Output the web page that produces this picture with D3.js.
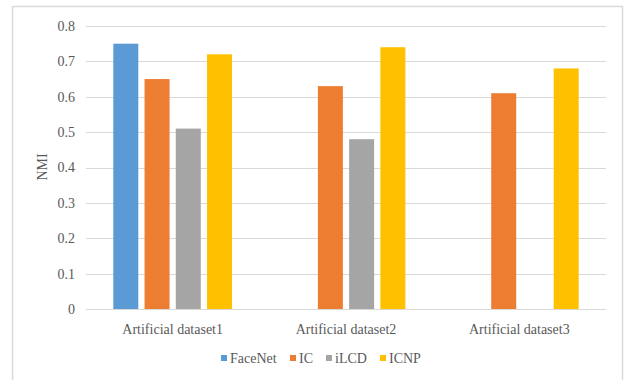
<!DOCTYPE html>
<html>
<head>
<meta charset="utf-8">
<script src="https://cdn.jsdelivr.net/npm/d3@7"></script>
<style>
  html, body { margin: 0; padding: 0; background: #fff; }
  svg { display: block; }
</style>
</head>
<body>
<svg id="chart" width="624" height="380"></svg>
<script>
// NMI scores per dataset and method
const categories = ["Artificial dataset1", "Artificial dataset2", "Artificial dataset3"];
const seriesNames = ["FaceNet", "IC", "iLCD", "ICNP"];
const faceNet = [0.75, null, null];
const ic      = [0.65, 0.63, 0.61];
const ilcd    = [0.51, 0.48, null];
const icnp    = [0.72, 0.74, 0.68];
const yTicks  = [0, 0.1, 0.2, 0.3, 0.4, 0.5, 0.6, 0.7, 0.8];
const colors  = ["#5B9BD5", "#ED7D31", "#A5A5A5", "#FFC000"];

const seriesValues = [faceNet, ic, ilcd, icnp];
const FONT = "'Liberation Serif', 'Times New Roman', serif";
const FONT_SIZE = "14px";
const TEXT_COLOR = "#595959";

function styleText(sel) {
  return sel.style("font-family", FONT)
    .style("font-size", FONT_SIZE)
    .style("fill", TEXT_COLOR);
}

const svg = d3.select("#chart");

// chart frame (open at the bottom)
svg.append("path")
  .attr("d", "M12.5,380 V6.5 H622.5 V380")
  .attr("fill", "none")
  .attr("stroke", "#d9d9d9")
  .attr("stroke-width", 1.5);

const plot = { left: 86, right: 606, top: 26, bottom: 309 };

const x0 = d3.scaleBand()
  .domain(categories)
  .range([plot.left, plot.right])
  .paddingInner(0.279)
  .paddingOuter(0.1395);

const x1 = d3.scaleBand()
  .domain(seriesNames)
  .range([0, x0.bandwidth()])
  .paddingInner(0.2)
  .paddingOuter(0.1);

const y = d3.scaleLinear()
  .domain([0, 0.8])
  .range([plot.bottom, plot.top]);

// horizontal gridlines
svg.append("g")
  .selectAll("line")
  .data(yTicks.filter(t => t > 0))
  .join("line")
  .attr("x1", plot.left)
  .attr("x2", plot.right)
  .attr("y1", d => Math.round(y(d)) + 0.5)
  .attr("y2", d => Math.round(y(d)) + 0.5)
  .attr("stroke", "#d9d9d9")
  .attr("stroke-width", 1.2);

// y axis labels
const yAxis = d3.axisLeft(y)
  .tickValues(yTicks)
  .tickSize(0)
  .tickPadding(0)
  .tickFormat(d => d === 0 ? "0" : d3.format(".1f")(d));

const yG = svg.append("g")
  .attr("transform", `translate(75,0)`)
  .call(yAxis);
yG.select(".domain").remove();
styleText(yG.selectAll("text"));

// bars
const rows = categories.map((c, i) => ({
  category: c,
  values: seriesNames.map((s, j) => ({ series: s, value: seriesValues[j][i], color: colors[j] }))
}));

const groups = svg.append("g")
  .selectAll("g")
  .data(rows)
  .join("g")
  .attr("transform", d => `translate(${x0(d.category)},0)`);

groups.selectAll("rect")
  .data(d => d.values.filter(v => v.value !== null))
  .join("rect")
  .attr("x", d => x1(d.series))
  .attr("y", d => y(d.value))
  .attr("width", x1.bandwidth())
  .attr("height", d => y(0) - y(d.value))
  .attr("fill", d => d.color);

// category axis
const xAxis = d3.axisBottom(x0).tickSize(0).tickPadding(0);
const xG = svg.append("g")
  .attr("transform", `translate(0,${plot.bottom})`)
  .call(xAxis);
xG.select(".domain")
  .attr("d", `M${plot.left},0.5H${plot.right}`)
  .attr("stroke", "#d9d9d9")
  .attr("stroke-width", 1.2);
styleText(xG.selectAll("text"))
  .attr("y", 25)
  .attr("dy", 0);

// y axis title
styleText(svg.append("text")
  .attr("transform", "translate(47,167) rotate(-90)")
  .attr("text-anchor", "middle")
  .text("NMI"));

// legend
const legendX = [221, 290, 326, 380];
const legend = svg.append("g")
  .selectAll("g")
  .data(seriesNames)
  .join("g")
  .attr("transform", (d, i) => `translate(${legendX[i]},355)`);
legend.append("rect")
  .attr("width", 6)
  .attr("height", 6)
  .attr("fill", (d, i) => colors[i]);
styleText(legend.append("text")
  .attr("x", 9)
  .attr("y", 7.5)
  .text(d => d));
</script>
</body>
</html>
